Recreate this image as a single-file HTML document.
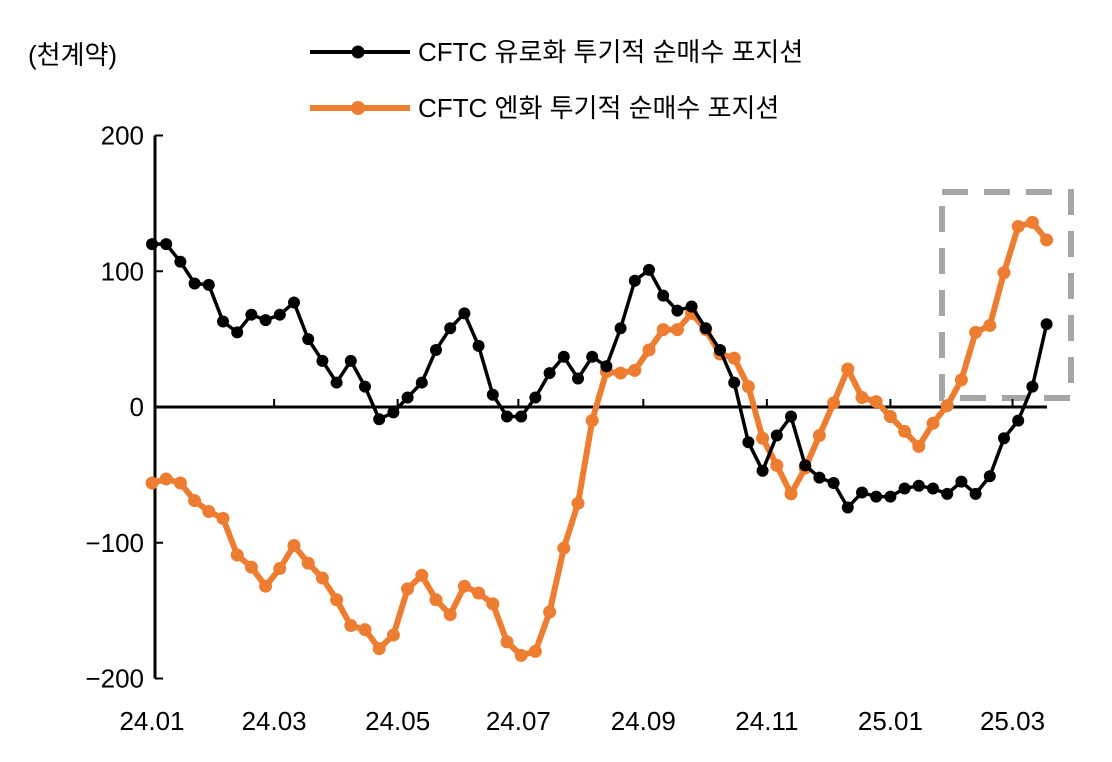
<!DOCTYPE html>
<html><head><meta charset="utf-8"><style>
body{margin:0;background:#fff;}
svg text{font-family:"Liberation Sans","Noto Sans CJK KR",sans-serif;fill:#000;}
</style></head><body>
<svg id="chart" width="1112" height="757" viewBox="0 0 1112 757">
<text x="28" y="64" font-size="26">(천계약)</text>
<g>
<g>
<line x1="310" y1="52" x2="410" y2="52" stroke="#000" stroke-width="4"/><circle cx="358" cy="52" r="6.5" fill="#000"/>
<text x="418" y="61" font-size="26">CFTC 유로화 투기적 순매수 포지션</text></g>
<g>
<line x1="310" y1="108" x2="410" y2="108" stroke="#ED7D31" stroke-width="6"/><circle cx="358" cy="108" r="7" fill="#ED7D31"/>
<text x="418" y="117" font-size="26">CFTC 엔화 투기적 순매수 포지션</text></g>
</g>
<rect x="942" y="192" width="129" height="206" fill="none" stroke="#A6A6A6" stroke-width="6" stroke-dasharray="26,16"/>
<g id="axes"></g>
<g id="marks"></g>
</svg>
<script>
const yTicks=[200,100,0,-100,-200];
const xLabels=["24.01","24.03","24.05","24.07","24.09","24.11","25.01","25.03"];
const xLabelWeeks=[0,8.6,17.3,25.8,34.6,43.3,52,60.6];
const eur=[120,120,107,91,90,63,55,68,64,68,77,50,34,18,34,15,-9,-4,7,18,42,58,69,45,9,-7,-7,7,25,37,21,37,30,58,93,101,82,71,74,58,42,18,-26,-47,-21,-7,-43,-52,-56,-74,-63,-66,-66,-60,-58,-60,-64,-55,-64,-51,-23,-10,15,61];
const jpy=[-56,-53,-56,-69,-77,-82,-109,-118,-132,-119,-102,-115,-126,-142,-161,-164,-178,-168,-134,-124,-142,-153,-132,-137,-145,-173,-183,-180,-151,-104,-71,-10,26,25,27,42,57,57,69,57,39,36,15,-23,-43,-64,-45,-21,3,28,7,4,-7,-18,-29,-12,1,20,55,60,99,133,136,123];
const NS="http://www.w3.org/2000/svg";
const X=i=>152+i*14.2;
const Y=v=>407-v*1.3575;
function mk(tag,attrs,parent){const e=document.createElementNS(NS,tag);for(const k in attrs)e.setAttribute(k,attrs[k]);parent.appendChild(e);return e;}
const ax=document.getElementById('axes'),mg=document.getElementById('marks');
let yl=mk('line',{x1:155,y1:Y(200),x2:155,y2:Y(-200),stroke:'#000','stroke-width':3},ax);


yTicks.forEach(t=>{
 const tk=mk('line',{x1:155,y1:Y(t),x2:163,y2:Y(t),stroke:'#000','stroke-width':2},ax);
 
 
 const tx=mk('text',{x:144,y:Y(t)+9,'font-size':26,'text-anchor':'end'},ax);
 tx.textContent=(t<0?'\u2212'+(-t):t);
 
 
});
let xl=mk('line',{x1:155,y1:Y(0),x2:1047,y2:Y(0),stroke:'#000','stroke-width':3},ax);


xLabels.forEach((l,k)=>{
 const x=X(xLabelWeeks[k]);
 if(k>0){const tk=mk('line',{x1:x,y1:Y(0),x2:x,y2:Y(0)-8,stroke:'#000','stroke-width':2},ax);
 
 }
 const tx=mk('text',{x:x,y:730,'font-size':26,'text-anchor':'middle'},ax);
 tx.textContent=l;
 
 
});
function series(data,color,w,r,name){
 const g=mk('g',{},mg);
 
 
 const p=mk('polyline',{points:data.map((v,i)=>X(i)+','+Y(v)).join(' '),fill:'none',stroke:color,'stroke-width':w,'stroke-linejoin':'round'},g);
 
 
 data.forEach((v,i)=>{
  const c=mk('circle',{cx:X(i),cy:Y(v),r:r,fill:color},g);
  
  
 });
}
series(jpy,'#ED7D31',6,6.5,'jpy-series');
series(eur,'#000',3.5,6,'eur-series');
</script>
</body></html>
